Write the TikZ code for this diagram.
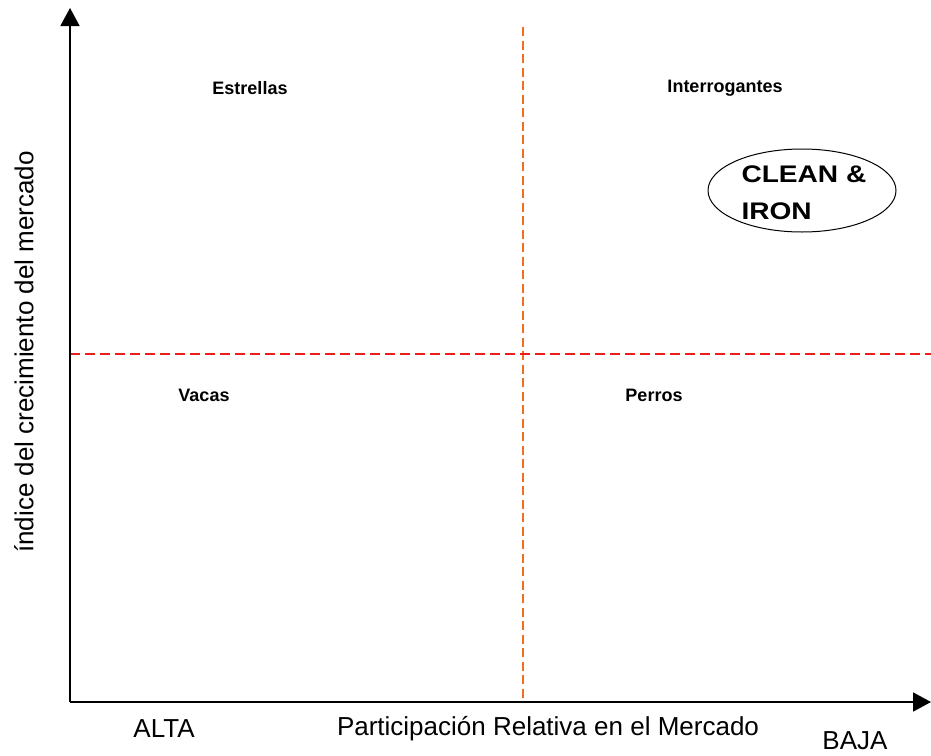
\documentclass[tikz,border=0pt]{standalone}
\usepackage{fontspec}
\usepackage{graphicx}
\setmainfont{Liberation Sans}
\usetikzlibrary{arrows.meta,shapes.geometric}
\definecolor{vorange}{RGB}{240,110,30}
\definecolor{hred}{RGB}{235,30,30}
\begin{document}
\begin{tikzpicture}[x=1pt,y=-1pt,
  axis/.style={line width=1.8pt,-{Triangle[length=18pt,width=19pt]}},
  quad/.style={font=\fontsize{18}{21}\selectfont\bfseries},
  axlabel/.style={font=\fontsize{26}{30}\selectfont},
  vdash/.style={vorange,line width=1.3pt,dash pattern=on 9pt off 4.5pt},
  hdash/.style={hred,line width=1.3pt,dash pattern=on 10pt off 5pt}]
\useasboundingbox (0,0) rectangle (931,755);
\coordinate (O) at (70,702);
\coordinate (Ytip) at (70,8);
\coordinate (Xtip) at (931,702);
\coordinate (vtop) at (523,27);
\coordinate (vbot) at (523,702);
\coordinate (hl) at (70,354);
\coordinate (hr) at (931,354);
\draw[vdash] (vtop) -- (vbot);
\draw[hdash] (hl) -- (hr);
\draw[axis] (O) -- (Ytip);
\draw[axis] (O) -- (Xtip);
\node[quad] (est) at (250,88) {Estrellas};
\node[quad] (int) at (725,88) {Interrogantes};
\node[quad] (vac) at (204,395) {Vacas};
\node[quad] (per) at (654,395) {Perros};
\node[draw,ellipse,line width=1pt,minimum width=188pt,minimum height=83pt,inner sep=0pt] (ell) at (802,190.5) {};
\node[anchor=west,align=left,font=\fontsize{24}{37}\selectfont\bfseries] (ci) at (738,193) {\scalebox{1.17}[1]{CLEAN \&}\\\scalebox{1.17}[1]{IRON}};
\node[axlabel] (alta) at (164,729) {ALTA};
\node[axlabel] (part) at (548,729) {Participación Relativa en el Mercado};
\node[axlabel,anchor=base,inner sep=0pt] (baja) at (855,749) {BAJA};
\node[axlabel,rotate=90] (ylab) at (24,352) {índice del crecimiento del mercado};
\end{tikzpicture}
\end{document}
